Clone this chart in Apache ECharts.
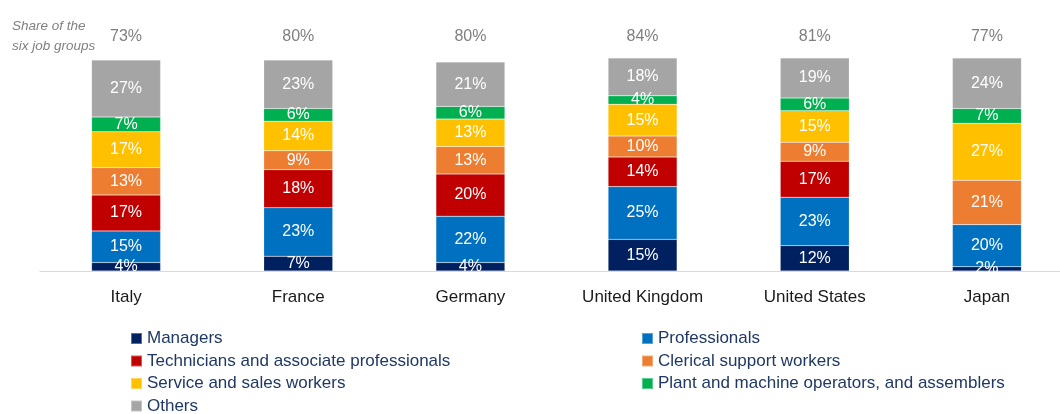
<!DOCTYPE html>
<html>
<head>
<meta charset="utf-8">
<script src="https://cdn.jsdelivr.net/npm/echarts@6/dist/echarts.min.js"></script>
<style>
  html, body { margin: 0; padding: 0; background: #fff; }
  #chart { width: 1060px; height: 414px; }
</style>
</head>
<body>
<div id="chart"></div>
<script>
// Employment structure by occupational group, % of total
const countries = ['Italy', 'France', 'Germany', 'United Kingdom', 'United States', 'Japan'];
const sixGroupShare = [73, 80, 80, 84, 81, 77];

const managers      = [4, 7, 4, 15, 12, 2];
const professionals = [15, 23, 22, 25, 23, 20];
const technicians   = [17, 18, 20, 14, 17, 0];
const clerical      = [13, 9, 13, 10, 9, 21];
const service       = [17, 14, 13, 15, 15, 27];
const plant         = [7, 6, 6, 4, 6, 7];
const others        = [27, 23, 21, 18, 19, 24];

const seriesDefs = [
  { name: 'Managers', data: managers, color: '#002060' },
  { name: 'Professionals', data: professionals, color: '#0070C0' },
  { name: 'Technicians and associate professionals', data: technicians, color: '#C00000' },
  { name: 'Clerical support workers', data: clerical, color: '#ED7D31' },
  { name: 'Service and sales workers', data: service, color: '#FFC000' },
  { name: 'Plant and machine operators, and assemblers', data: plant, color: '#00B050' },
  { name: 'Others', data: others, color: '#A5A5A5' }
];

const FONT = '"Liberation Sans", Arial, sans-serif';

const chart = echarts.init(document.getElementById('chart'), null, { renderer: 'canvas' });

const legendText = { color: '#1F3864', fontSize: 17, fontFamily: FONT, lineHeight: 16 };
const legendBase = {
  orient: 'vertical', padding: 0,
  itemWidth: 11, itemHeight: 11, itemGap: 5.5,
  icon: 'rect', textStyle: legendText, selectedMode: false
};

chart.setOption({
  animation: false,
  textStyle: { fontFamily: FONT },
  // plot spans past the right edge so the six categories keep their spacing
  grid: { left: 40, top: 60, width: 1033, height: 211, containLabel: false, outerBoundsMode: 'none' },
  graphic: [{
    type: 'text',
    left: 12,
    top: 16,
    style: {
      text: 'Share of the\nsix job groups',
      fill: '#808080',
      font: 'italic 13.5px ' + FONT,
      lineHeight: 20
    }
  }],
  legend: [
    Object.assign({}, legendBase, {
      left: 130, top: 330,
      data: ['Managers', 'Technicians and associate professionals', 'Service and sales workers']
    }),
    Object.assign({}, legendBase, {
      left: 130, top: 397.5,
      data: ['Others']
    }),
    Object.assign({}, legendBase, {
      left: 641, top: 330,
      data: ['Professionals', 'Clerical support workers', 'Plant and machine operators, and assemblers']
    })
  ],
  xAxis: [
    {
      type: 'category', data: countries, position: 'bottom',
      axisLine: { lineStyle: { color: '#D9D9D9', width: 1 } },
      axisTick: { show: false },
      axisLabel: { color: '#1a1a1a', fontSize: 17, margin: 18, fontFamily: FONT }
    },
    {
      type: 'category', data: sixGroupShare.map(v => v + '%'), position: 'top',
      axisLine: { show: false }, axisTick: { show: false },
      axisLabel: { color: '#7F7F7F', fontSize: 16, margin: 15, fontFamily: FONT }
    }
  ],
  yAxis: {
    type: 'value', min: 0, max: 100, show: false, splitLine: { show: false }
  },
  series: seriesDefs.map(s => ({
    name: s.name,
    type: 'bar',
    stack: 'total',
    barWidth: 69,
    clip: false,
    data: s.data,
    itemStyle: { color: s.color, borderColor: 'rgba(255,255,255,0.35)', borderWidth: 0.5 },
    label: {
      show: true,
      position: 'inside',
      color: '#fff',
      fontSize: 16,
      fontFamily: FONT,
      formatter: p => (p.value > 0 ? p.value + '%' : '')
    }
  }))
});
</script>
</body>
</html>
